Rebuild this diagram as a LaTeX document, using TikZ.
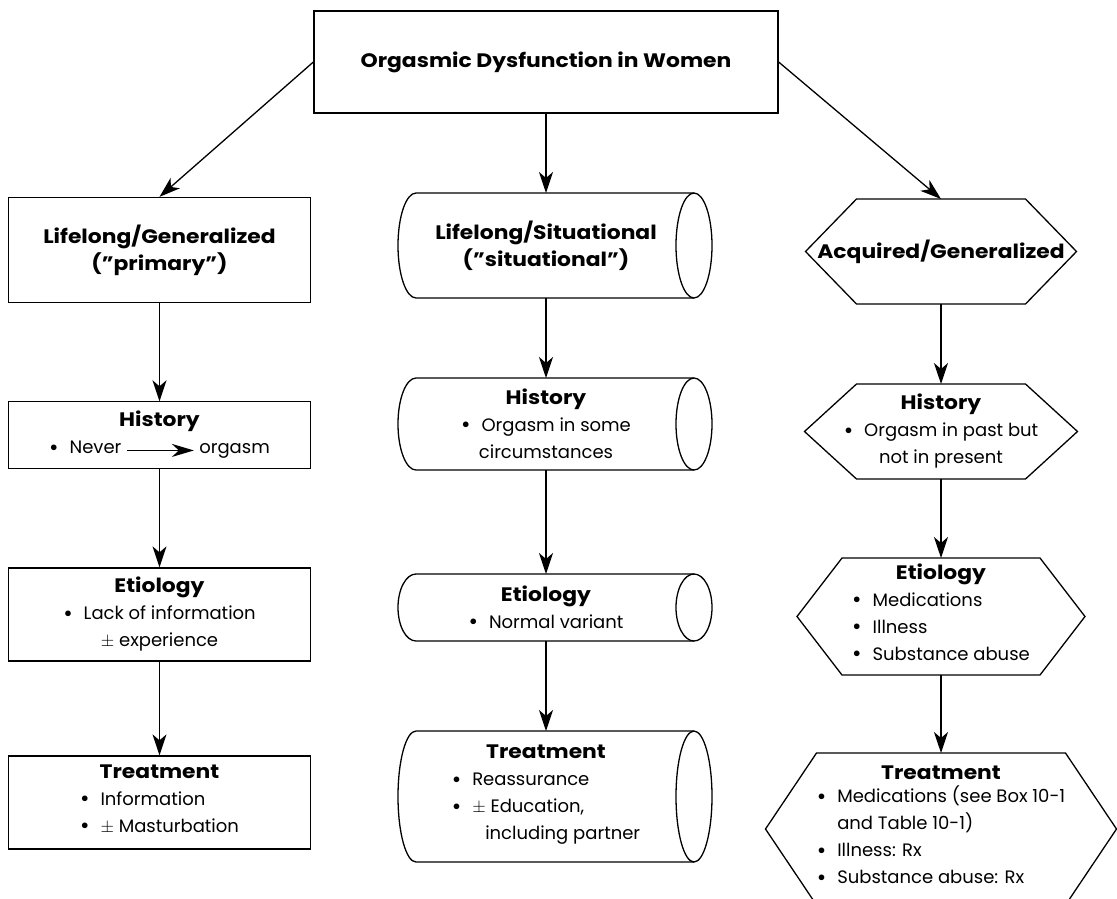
\documentclass[tikz,border=0pt]{standalone}
\usepackage{fontspec}
\setmainfont{Poppins}[BoldFeatures={FakeStretch=1.12}]
\usetikzlibrary{arrows.meta}
\newcommand{\nevertoo}{\tikz[baseline=-0.35ex]\draw[line width=1.3pt,-{Stealth[length=22pt,width=13pt,inset=7pt]}](0pt,0pt)--(67pt,0pt);}
\newcommand{\bul}{\raisebox{-1.2pt}{\fontsize{23}{27}\selectfont\textbullet}}
% cylinder outline round a plain node: name, half height
\newcommand{\cylout}[2]{\draw ([xshift=18pt]#1.north west) -- (#1.north east) (#1.south east) -- ([xshift=18pt]#1.south west) arc[start angle=270,end angle=90,x radius=18pt,y radius=#2];
  \draw (#1.east) ellipse[x radius=18pt,y radius=#2];}
% hexagon outline round a plain node: name, slant
\newcommand{\hexout}[2]{\draw ([xshift=#2]#1.north west) -- ([xshift=-#2]#1.north east) -- (#1.east) -- ([xshift=-#2]#1.south east) -- ([xshift=#2]#1.south west) -- (#1.west) -- cycle;}

\begin{document}
\begin{tikzpicture}[x=1pt,y=-1pt,line width=1.3pt,
  >={Stealth[length=21pt,width=14pt,inset=6pt]},
  every node/.style={font=\fontsize{18}{27}\selectfont,align=center,inner sep=0pt},
  head/.style={font=\fontsize{19.5}{27}\selectfont\bfseries},
  rbox/.style={draw,rectangle,minimum width=302pt},
  cylbox/.style={rectangle,outer sep=0pt,minimum width=296pt},
  hexbox/.style={rectangle,outer sep=0pt}]
\useasboundingbox (0,0) rectangle (1117,898);
% title
\node[rbox,head,minimum width=464pt,minimum height=102pt] (women) at (546,62) {Orgasmic Dysfunction in Women};
% lifelong / generalized
\node[rbox,head,minimum height=105pt] (lg) at (159.5,250) {Lifelong/Generalized\\(”primary”)};
\node[rbox,minimum height=67pt] (lghist) at (159.5,435) {{\bfseries\fontsize{19.5}{27}\selectfont History}\\ \bul\hspace{11pt}Never \nevertoo{} orgasm};
\node[rbox,minimum height=93pt] (lgetio) at (159.5,614.5) {{\bfseries\fontsize{19.5}{27}\selectfont Etiology}\\ \bul\hspace{11pt}Lack of information\\ $\pm$ experience};
\node[rbox,minimum height=93pt] (lgtreat) at (159.5,802.5) {{\bfseries\fontsize{19.5}{27}\selectfont Treatment}\\ \begin{tabular}[t]{@{}l@{\hspace{11pt}}l@{}}\bul & Information\\ \bul & $\pm$ Masturbation\end{tabular}};
% lifelong / situational
\node[cylbox,head,minimum height=105pt] (ls) at (546,245.5) {Lifelong/Situational\\(”situational”)};
\node[cylbox,minimum height=92pt] (lshist) at (546,424) {{\bfseries\fontsize{19.5}{27}\selectfont History}\\ \bul\hspace{11pt}Orgasm in some\\ circumstances};
\node[cylbox,minimum height=67pt] (lsetio) at (546,607.5) {{\bfseries\fontsize{19.5}{27}\selectfont Etiology}\\ \bul\hspace{11pt}Normal variant};
\node[cylbox,minimum height=131pt] (lstreat) at (546,796.5) {{\bfseries\fontsize{19.5}{27}\selectfont Treatment}\\ \begin{tabular}[t]{@{}l@{\hspace{11pt}}l@{}}\bul & Reassurance\\ \bul & $\pm$ Education,\\ & \hspace{13pt}including partner\end{tabular}};
\cylout{ls}{52.5pt}
\cylout{lshist}{46pt}
\cylout{lsetio}{33.5pt}
\cylout{lstreat}{65.5pt}
% acquired / generalized
\node[hexbox,head,minimum width=271pt,minimum height=105pt] (ag) at (941,251.5) {Acquired/Generalized};
\node[hexbox,minimum width=273pt,minimum height=95pt] (aghist) at (941,431.5) {{\bfseries\fontsize{19.5}{27}\selectfont History}\\ \bul\hspace{11pt}Orgasm in past but\\ not in present};
\node[hexbox,minimum width=288pt,minimum height=117pt] (agetio) at (941,616.5) {{\bfseries\fontsize{19.5}{27}\selectfont Etiology}\\ \begin{tabular}[t]{@{}l@{\hspace{11pt}}l@{}}\bul & Medications\\ \bul & Illness\\ \bul & Substance abuse\end{tabular}};
\node[hexbox,minimum width=351pt,minimum height=152pt] (agtreat) at (941,829) {\raisebox{-4pt}{\bfseries\fontsize{19.5}{27}\selectfont Treatment}\\ \begin{tabular}[t]{@{}l@{\hspace{11pt}}l@{}}\bul & Medications (see Box 10-1\\ & and Table 10-1)\\ \bul & Illness: Rx\\ \bul & Substance abuse: Rx\end{tabular}};
\hexout{ag}{51pt}
\hexout{aghist}{52pt}
\hexout{agetio}{45pt}
\hexout{agtreat}{51pt}
% arrows
\draw[->] (women.west) -- (lg.north);
\draw[->] (women.south) -- (ls.north);
\draw[->] (women.east) -- (ag.north);
\draw[->] (lg.south) -- (lghist.north);
\draw[->] (lghist.south) -- (lgetio.north);
\draw[->] (lgetio.south) -- (lgtreat.north);
\draw[->] (ls.south) -- (lshist.north);
\draw[->] (lshist.south) -- (lsetio.north);
\draw[->] (lsetio.south) -- (lstreat.north);
\draw[->] (ag.south) -- (aghist.north);
\draw[->] (aghist.south) -- (agetio.north);
\draw[->] (agetio.south) -- (agtreat.north);
\end{tikzpicture}
\end{document}
